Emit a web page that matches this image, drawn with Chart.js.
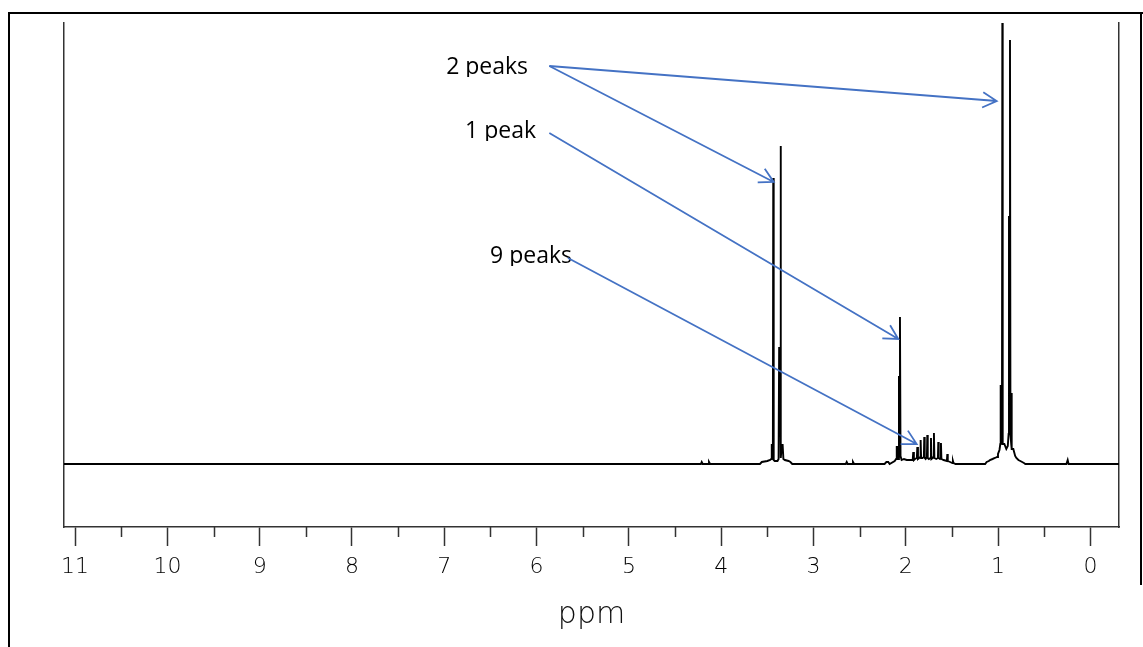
<!DOCTYPE html>
<html>
<head>
<meta charset="utf-8">
<script src="https://cdn.jsdelivr.net/npm/chart.js@4.4.1/dist/chart.umd.min.js"></script>
<style>
  body { margin: 0; background: #fff; }
  #wrap { width: 1143px; height: 647px; }
</style>
</head>
<body>
<div id="wrap"><canvas id="nmr" width="1143" height="647"></canvas></div>
<script>
// spectrum: chemical shift (ppm) and intensity
let ppm = [
  11.12, 4.22, 4.211, 4.20, 4.14, 4.132, 4.12,
  3.58, 3.56, 3.50, 3.47, 3.458, 3.452, 3.446, 3.440, 3.436, 3.431, 3.42,
  3.39, 3.378, 3.372, 3.362, 3.357, 3.352, 3.342, 3.334, 3.326, 3.31, 3.27, 3.25, 3.23,
  2.65, 2.640, 2.63, 2.58, 2.572, 2.56,
  2.23, 2.21, 2.19, 2.175, 2.12, 2.105, 2.098, 2.090, 2.080, 2.074, 2.068, 2.063, 2.057, 2.045, 2.02,
  1.99, 1.94, 1.925, 1.919, 1.912, 1.90, 1.880, 1.875, 1.868, 1.855, 1.843, 1.839, 1.834, 1.82,
  1.804, 1.800, 1.795, 1.785, 1.771, 1.767, 1.762, 1.75, 1.731, 1.727, 1.722, 1.71, 1.699, 1.695,
  1.690, 1.67, 1.652, 1.648, 1.643, 1.63, 1.622, 1.619, 1.614, 1.59, 1.555, 1.550, 1.545, 1.52,
  1.495, 1.489, 1.483, 1.46,
  1.14, 1.124, 1.10, 1.088, 1.06, 1.034, 1.01, 1.001, 0.985, 0.976, 0.972, 0.968, 0.958, 0.954,
  0.950, 0.932, 0.911, 0.895, 0.886, 0.882, 0.876, 0.871, 0.866, 0.858, 0.855, 0.850, 0.835,
  0.815, 0.802, 0.78, 0.759, 0.72, 0.705,
  0.26, 0.246, 0.236, -0.31
];
let intensity = [
  0, 0, 2, 0, 0, 2, 0,
  0, 2, 3, 4, 5, 19, 19, 5, 286, 4, 3,
  3, 5, 116, 116, 318, 6, 19, 19, 5, 4, 3, 2, 0,
  0, 2, 0, 0, 2, 0,
  0, 2, 2, 0, 3, 5, 17, 17, 5, 87, 87, 147, 8, 4, 5,
  4, 4, 4, 12, 4, 5, 6, 17, 5, 6, 7, 24, 6, 6,
  7, 27, 6, 5, 7, 29, 6, 5, 6, 26, 5, 6, 7, 31,
  6, 5, 6, 22, 6, 5, 6, 21, 5, 4, 3, 10, 3, 2,
  1, 3, 1, 0,
  0, 2, 3, 4, 5, 6, 7, 10, 14, 20, 79, 30, 20, 441,
  20, 20, 15, 18, 30, 247, 247, 424, 30, 20, 71, 15, 15,
  8, 6, 4, 3, 1, 0,
  0, 4, 0, 0
];

// annotations: label text, label anchor, arrow start and arrow tip, all in ppm / intensity
let noteText = ['2 peaks', '2 peaks', '1 peak', '9 peaks'];
let noteShow = [true, false, true, true];
let noteTextPpm = [6.98, 6.98, 6.775, 6.504];
let noteTextInt = [390, 390, 326, 201];
let arrowFromPpm = [5.862, 5.862, 5.862, 5.660];
let arrowFromInt = [398, 398, 331, 206];
let arrowToPpm = [1.015, 3.431, 2.081, 1.882];
let arrowToInt = [363, 282, 125, 20];

let xTicksMin = -0.31;
let xTicksMax = 11.12;
let yMin = -63;
let yMax = 441;

let points = [];
for (let i = 0; i < ppm.length; i++)
  points.push({x: ppm[i], y: intensity[i]});

const AXIS_COLOR = '#333';
const ARROW_COLOR = '#4472C4';

// outer frame of the picture
const framePlugin = {
  id: 'frame',
  afterDraw(chart) {
    const ctx = chart.ctx;
    ctx.save();
    ctx.strokeStyle = '#000';
    ctx.lineWidth = 2;
    ctx.beginPath();
    ctx.moveTo(9, 647);
    ctx.lineTo(9, 13);
    ctx.lineTo(1143, 13);
    ctx.moveTo(1141, 13);
    ctx.lineTo(1141, 585);
    ctx.stroke();
    ctx.restore();
  }
};

// half ppm ticks, shorter than the numbered ones
const minorTicks = {
  id: 'minorTicks',
  afterDraw(chart) {
    const xs = chart.scales.x;
    const ctx = chart.ctx;
    const bottom = chart.chartArea.bottom;
    ctx.save();
    ctx.strokeStyle = AXIS_COLOR;
    ctx.lineWidth = 1.5;
    ctx.beginPath();
    for (let v = 0.5; v < 11; v++) {
      let px = Math.round(xs.getPixelForValue(v)) + 0.5;
      ctx.moveTo(px, bottom);
      ctx.lineTo(px, bottom + 10);
    }
    ctx.stroke();
    ctx.restore();
  }
};

function drawArrow(ctx, x1, y1, x2, y2) {
  let ang = Math.atan2(y2 - y1, x2 - x1);
  let len = 16, spread = 0.5;
  ctx.beginPath();
  ctx.moveTo(x1, y1);
  ctx.lineTo(x2, y2);
  ctx.moveTo(x2 - len * Math.cos(ang - spread), y2 - len * Math.sin(ang - spread));
  ctx.lineTo(x2, y2);
  ctx.lineTo(x2 - len * Math.cos(ang + spread), y2 - len * Math.sin(ang + spread));
  ctx.stroke();
}

const notesPlugin = {
  id: 'notes',
  afterDraw(chart) {
    const xs = chart.scales.x, ys = chart.scales.y;
    const ctx = chart.ctx;
    ctx.save();
    ctx.font = "23px 'Open Sans'";
    ctx.fillStyle = '#000';
    ctx.textBaseline = 'alphabetic';
    for (let i = 0; i < noteText.length; i++) {
      if (!noteShow[i]) continue;
      let tx = xs.getPixelForValue(noteTextPpm[i]);
      let ty = ys.getPixelForValue(noteTextInt[i]);
      let w = ctx.measureText(noteText[i]).width;
      ctx.save();
      ctx.beginPath();
      ctx.rect(tx - 3, ty - 30, w + 6, 33); // the text boxes cut the descenders
      ctx.clip();
      ctx.fillText(noteText[i], tx, ty);
      ctx.restore();
    }
    ctx.strokeStyle = ARROW_COLOR;
    ctx.lineWidth = 1.8;
    for (let i = 0; i < noteText.length; i++) {
      drawArrow(ctx,
        xs.getPixelForValue(arrowFromPpm[i]), ys.getPixelForValue(arrowFromInt[i]),
        xs.getPixelForValue(arrowToPpm[i]), ys.getPixelForValue(arrowToInt[i]));
    }
    ctx.restore();
  }
};

let c = document.getElementById('nmr');
let chart = new Chart(c, {
  type: 'line',
  data: {
    datasets: [{
      data: points,
      borderColor: '#000',
      borderWidth: 1.9,
      pointRadius: 0,
      tension: 0,
      fill: false
    }]
  },
  options: {
    responsive: false,
    animation: false,
    layout: { padding: { top: 23, left: 0, right: 0, bottom: 0 } },
    plugins: { legend: { display: false }, tooltip: { enabled: false } },
    scales: {
      x: {
        type: 'linear',
        position: 'bottom',
        reverse: true,
        min: xTicksMin,
        max: xTicksMax,
        afterFit(scale) { scale.height = 120; },
        grid: { drawOnChartArea: false, tickLength: 19, color: AXIS_COLOR, tickWidth: 1.5 },
        border: { display: true, color: AXIS_COLOR, width: 1.5 },
        ticks: {
          stepSize: 1,
          includeBounds: false,
          autoSkip: false,
          maxRotation: 0,
          padding: 8,
          color: '#000',
          font: { family: "'DejaVu Sans'", size: 22, weight: 200 }
        },
        title: {
          display: true,
          text: 'ppm',
          color: '#111',
          padding: { top: 0, bottom: 14 },
          font: { family: "'DejaVu Sans'", size: 30, weight: 200 }
        }
      },
      y: {
        position: 'left',
        min: yMin,
        max: yMax,
        afterFit(scale) { scale.width = 64; },
        grid: { display: false },
        ticks: { display: false },
        border: { display: true, color: AXIS_COLOR, width: 1.5 }
      },
      y2: {
        position: 'right',
        min: yMin,
        max: yMax,
        afterFit(scale) { scale.width = 24; },
        grid: { display: false },
        ticks: { display: false },
        border: { display: true, color: AXIS_COLOR, width: 1.5 }
      }
    }
  },
  plugins: [framePlugin, minorTicks, notesPlugin]
});
</script>
</body>
</html>
